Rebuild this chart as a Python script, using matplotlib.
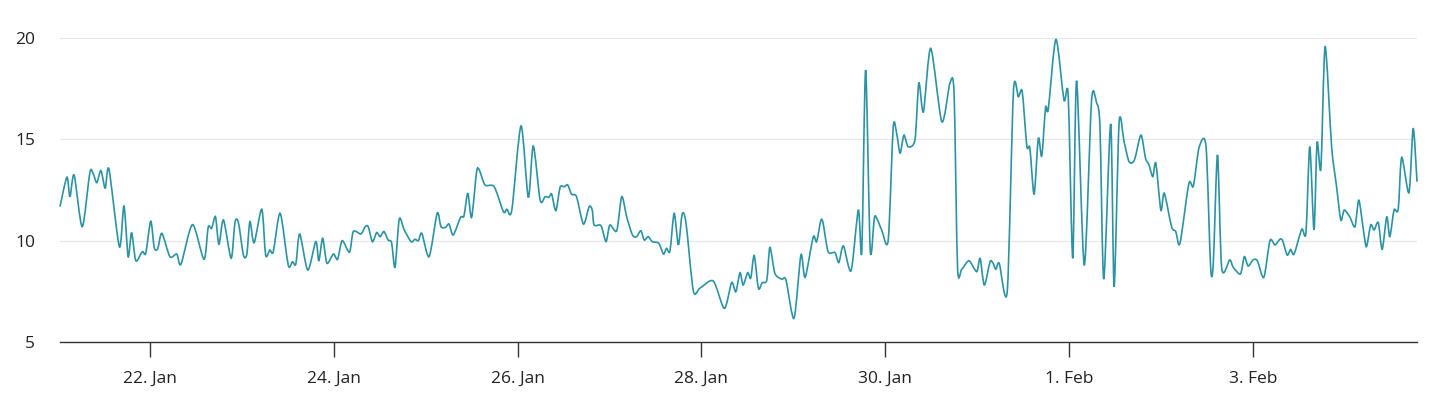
import pandas as pd
import numpy as np
import matplotlib
matplotlib.use("Agg")
import matplotlib.pyplot as plt
import matplotlib.dates as mdates
from matplotlib.path import Path
from matplotlib.patches import PathPatch

plt.rcParams['font.family'] = ['Open Sans', 'DejaVu Sans']

# hours since 21 Jan 00:00 and the measured value
hours = [
    0.5, 2.3, 3.1, 4.2, 6.3, 8.3, 9.2, 10.1, 11.2, 12.3, 13.3, 16.0, 17.2, 18.3,
    19.2, 20.3, 22.0, 22.9, 24.2, 25.1, 26.0, 27.1, 29.2, 31.0, 32.1, 35.1, 38.1,
    39.2, 40.1, 41.1, 42.0, 43.2, 45.2, 46.2, 47.1, 48.4, 49.3, 50.1, 51.2, 53.2,
    54.2, 55.3, 56.2, 58.0, 60.1, 61.2, 62.1, 63.1, 65.2, 67.3, 68.1, 69.1, 70.2,
    71.9, 73.0, 74.2, 76.1, 77.1, 79.1, 80.2, 81.0, 82.1, 83.2, 84.1, 85.1, 86.2,
    87.1, 88.0, 89.1, 90.4, 92.2, 93.2, 94.1, 95.0, 96.9, 99.0, 100.0, 101.2,
    102.1, 103.2, 105.1, 106.0, 107.0, 108.0, 109.3, 110.0, 111.5, 113.9, 116.3,
    117.2, 118.5, 120.9, 122.8, 124.1, 125.9, 127.2, 128.2, 128.9, 130.0, 131.1,
    132.2, 133.1, 134.1, 135.4, 137.2, 138.7, 139.5, 140.0, 141.8, 143.1, 144.1,
    145.9, 147.2, 148.5, 150.0, 151.1, 152.2, 153.1, 154.1, 155.2, 156.9, 158.1,
    158.9, 159.8, 160.9, 162.0, 163.0, 164.0, 165.9, 167.6, 171.1, 174.0, 175.9,
    177.0, 178.1, 178.9, 180.1, 180.9, 181.8, 182.9, 183.9, 185.1, 185.9, 187.2,
    189.0, 190.1, 192.2, 194.0, 195.1, 197.2, 198.1, 199.2, 199.8, 201.1, 202.9,
    203.9, 205.1, 207.1, 209.0, 209.9, 210.9, 212.1, 213.2, 214.0, 215.1, 216.8,
    218.1, 219.0, 219.9, 220.9, 222.0, 223.8, 224.8, 226.0, 227.9, 230.8, 232.9,
    234.0, 234.9, 236.0, 237.9, 239.9, 240.8, 241.9, 243.4, 244.2, 244.9, 245.8,
    247.9, 249.5, 250.8, 251.8, 253.0, 253.8, 254.9, 256.0, 256.9, 257.9, 258.6,
    260.6, 262.7, 263.8, 265.0, 266.0, 268.0, 269.9, 271.2, 272.1, 273.1, 274.9,
    275.8, 277.1, 278.4, 279.7, 281.1, 282.8, 284.0, 284.9, 285.9, 286.7, 288.0,
    288.9, 290.8, 291.9, 293.0, 295.3, 296.5, 298.0, 299.8, 301.0, 301.7, 302.8,
    303.9, 306.0, 306.9, 308.8, 309.8, 310.8, 312.1, 313.2, 314.9, 316.5, 317.8,
    319.1, 319.8, 321.0, 321.9, 322.8, 324.8, 325.9, 326.9, 328.0, 328.8, 329.8,
    330.9, 332.6, 333.9, 335.0, 335.9, 337.4, 338.7, 339.7, 340.9, 341.7, 342.8,
    343.7, 344.8, 345.8, 347.0, 347.8, 348.9, 350.0, 350.9, 352.8, 353.9, 354.9,
]
values = [
    11.68, 13.13, 12.17, 13.23, 10.69, 13.36, 13.29, 12.86, 13.46, 12.58, 13.52,
    9.70, 11.71, 9.21, 10.40, 9.01, 9.46, 9.38, 10.96, 9.67, 9.59, 10.36, 9.21,
    9.34, 8.84, 10.79, 9.08, 10.66, 10.61, 11.18, 9.82, 11.02, 9.13, 10.91, 10.89,
    9.29, 9.34, 10.94, 9.90, 11.55, 9.29, 9.54, 9.46, 11.35, 8.80, 8.96, 8.85,
    10.33, 8.55, 9.95, 9.00, 10.12, 8.89, 9.34, 9.08, 10.00, 9.43, 10.45, 10.33,
    10.69, 10.69, 9.95, 10.40, 10.20, 10.45, 10.03, 9.90, 8.69, 11.06, 10.53,
    9.95, 10.07, 10.00, 10.36, 9.21, 11.35, 10.69, 10.66, 10.82, 10.28, 11.15,
    11.22, 12.34, 11.15, 13.40, 13.49, 12.75, 12.66, 11.43, 11.55, 11.51, 15.66,
    12.14, 14.67, 12.00, 12.17, 12.14, 12.30, 11.48, 12.63, 12.66, 12.75, 12.29,
    12.17, 10.82, 11.68, 11.51, 10.77, 10.74, 9.95, 10.77, 10.49, 12.17, 11.18,
    10.28, 10.20, 10.49, 10.03, 10.20, 9.95, 9.87, 9.34, 9.62, 9.49, 11.35, 9.79,
    11.32, 10.86, 7.53, 7.65, 8.01, 6.66, 7.93, 7.48, 8.42, 7.81, 8.42, 8.15,
    9.27, 7.65, 7.93, 8.06, 9.67, 8.39, 8.10, 8.06, 6.17, 9.29, 8.19, 10.17, 9.95,
    10.99, 10.86, 9.46, 9.41, 8.92, 9.74, 8.52, 11.51, 9.46, 18.42, 9.54, 11.15,
    11.02, 10.53, 10.03, 15.59, 15.30, 14.31, 15.21, 14.64, 15.00, 17.79, 16.36,
    19.49, 15.87, 17.76, 17.27, 8.72, 8.59, 9.01, 8.47, 9.13, 7.81, 8.96, 8.88,
    8.59, 8.88, 7.53, 17.35, 17.10, 17.35, 14.67, 14.56, 12.30, 15.05, 14.18,
    16.58, 16.48, 19.93, 16.94, 17.19, 9.13, 17.89, 8.80, 16.91, 16.81, 15.63,
    8.10, 15.76, 7.73, 15.82, 14.88, 13.90, 13.98, 15.21, 14.07, 13.74, 13.16,
    13.82, 11.51, 12.34, 10.69, 10.45, 9.87, 12.80, 12.70, 14.61, 14.64, 8.69,
    8.88, 14.23, 8.64, 9.05, 8.69, 8.36, 9.21, 8.75, 9.05, 9.01, 8.19, 10.00, 9.79,
    10.07, 10.00, 9.29, 9.57, 9.34, 10.56, 10.39, 14.64, 10.53, 14.84, 13.57,
    19.57, 14.64, 12.66, 11.02, 11.51, 11.15, 10.69, 12.00, 10.53, 9.70, 10.77,
    10.53, 10.89, 9.57, 11.18, 10.20, 11.51, 11.55, 14.11, 12.37, 15.54, 12.91,
]
y_ticks = [5, 10, 15, 20]
x_tick_days = ["2021-01-22", "2021-01-24", "2021-01-26", "2021-01-28",
               "2021-01-30", "2021-02-01", "2021-02-03"]
x_tick_labels = ["22. Jan", "24. Jan", "26. Jan", "28. Jan",
                 "30. Jan", "1. Feb", "3. Feb"]

start = pd.Timestamp("2021-01-21")
times = start + pd.to_timedelta(hours, unit="h")
xs = mdates.date2num(times.to_pydatetime())
ys = np.array(values)

fig = plt.figure(figsize=(14.32, 3.98), dpi=100)
ax = fig.add_axes([60 / 1432, 1 - 342 / 398, (1417 - 60) / 1432, (342 - 38) / 398])

# smooth spline-like line: cubic bezier through every data point
k = 7.5
verts = [(xs[0], ys[0])]
codes = [Path.MOVETO]
n = len(xs)
for i in range(n - 1):
    x0, y0 = xs[max(i - 1, 0)], ys[max(i - 1, 0)]
    x1, y1 = xs[i], ys[i]
    x2, y2 = xs[i + 1], ys[i + 1]
    x3, y3 = xs[min(i + 2, n - 1)], ys[min(i + 2, n - 1)]
    verts += [(x1 + (x2 - x0) / k, y1 + (y2 - y0) / k),
              (x2 - (x3 - x1) / k, y2 - (y3 - y1) / k),
              (x2, y2)]
    codes += [Path.CURVE4] * 3
ax.add_patch(PathPatch(Path(verts, codes), fill=False, edgecolor="#2b93a3",
                       lw=1.2, clip_on=False, zorder=3))

ax.set_xlim(xs[0], xs[-1])
ax.set_ylim(5, 20)
ax.set_yticks(y_ticks)
ax.set_yticklabels([str(t) for t in y_ticks])
ax.set_xticks([mdates.date2num(pd.Timestamp(d)) for d in x_tick_days])
ax.set_xticklabels(x_tick_labels)

ax.grid(axis="y", color="#e6e6e6", lw=0.8)
ax.set_axisbelow(True)
for side in ["top", "right", "left"]:
    ax.spines[side].set_visible(False)
ax.spines["bottom"].set_color("#333333")
ax.spines["bottom"].set_linewidth(1.0)

ax.tick_params(axis="y", length=0, pad=18, labelsize=12.5, labelcolor="#222222")
ax.tick_params(axis="x", length=10.5, width=1, color="#333333", pad=10.5,
               labelsize=12.5, labelcolor="#222222")

fig.savefig("out.png", dpi=100)
